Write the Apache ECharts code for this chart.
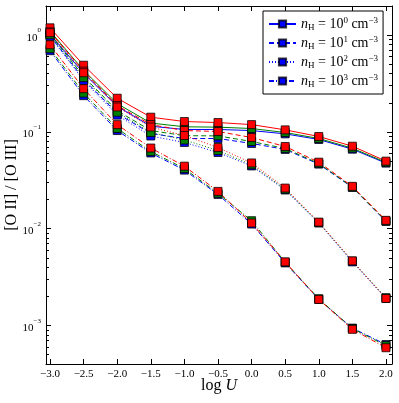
<!DOCTYPE html>
<html>
<head>
<meta charset="utf-8">
<script src="https://cdn.jsdelivr.net/npm/echarts@6/dist/echarts.min.js"></script>
<style>
html, body { margin: 0; padding: 0; background: #fff; }
#chart { width: 399px; height: 403px; }
</style>
</head>
<body>
<div id="chart"></div>
<script>
// log U grid
const logU = [-3.0, -2.5, -2.0, -1.5, -1.0, -0.5, 0.0, 0.5, 1.0, 1.5, 2.0];

// n_H = 10^0 (solid)
const n0Blue = [1.02, 0.405, 0.184, 0.1145, 0.106, 0.106, 0.1033, 0.0955, 0.0835, 0.0663, 0.0476];
const n0Green = [1.10, 0.433, 0.196, 0.1235, 0.113, 0.112, 0.1084, 0.0986, 0.0855, 0.0679, 0.0484];
const n0Red = [1.19, 0.489, 0.223, 0.142, 0.128, 0.125, 0.119, 0.105, 0.0897, 0.0712, 0.0499];

// n_H = 10^1 (dashed)
const n1Blue = [0.99, 0.351, 0.155, 0.0963, 0.0855, 0.0855, 0.076, 0.0659, 0.0465, 0.0267, 0.0119];
const n1Green = [1.03, 0.375, 0.1655, 0.1033, 0.0914, 0.091, 0.0796, 0.0675, 0.0472, 0.0269, 0.0120];
const n1Red = [1.08, 0.425, 0.187, 0.119, 0.1033, 0.101, 0.0875, 0.0707, 0.0487, 0.0274, 0.0122];

// n_H = 10^2 (dotted)
const n2Blue = [0.97, 0.339, 0.149, 0.0907, 0.0778, 0.0613, 0.0445, 0.0251, 0.01145, 0.00454, 0.0019];
const n2Green = [1.01, 0.364, 0.160, 0.0986, 0.0825, 0.0643, 0.0458, 0.0255, 0.01156, 0.00463, 0.00194];
const n2Red = [1.06, 0.409, 0.181, 0.1124, 0.0918, 0.069, 0.0478, 0.0263, 0.0117, 0.00465, 0.0019];

// n_H = 10^3 (dash-dot)
const n3Blue = [0.690, 0.237, 0.1033, 0.0606, 0.0403, 0.0226, 0.01117, 0.00443, 0.00186, 0.00094, 0.000635];
const n3Green = [0.724, 0.252, 0.1084, 0.0628, 0.0418, 0.0232, 0.0121, 0.00451, 0.00189, 0.00093, 0.00062];
const n3Red = [0.796, 0.280, 0.119, 0.0682, 0.0443, 0.0243, 0.01145, 0.00454, 0.00186, 0.000912, 0.000589];

const xTicks = [-3.0, -2.5, -2.0, -1.5, -1.0, -0.5, 0.0, 0.5, 1.0, 1.5, 2.0];
const yMajor = [0.001, 0.01, 0.1, 1];
const yMinor = [];
for (let e = -4; e <= 0; e++) {
  for (let m = 2; m <= 9; m++) {
    const v = m * Math.pow(10, e);
    if (v >= 0.0004 && v <= 2) yMinor.push(+v.toPrecision(3));
  }
}

const serif = 'Liberation Serif';
const groups = [
  { key: 'n0', exp: '0', dash: 'solid', blue: n0Blue, green: n0Green, red: n0Red },
  { key: 'n1', exp: '1', dash: [5, 3], blue: n1Blue, green: n1Green, red: n1Red },
  { key: 'n2', exp: '2', dash: [1, 2], blue: n2Blue, green: n2Green, red: n2Red },
  { key: 'n3', exp: '3', dash: [5, 2, 1, 2], blue: n3Blue, green: n3Green, red: n3Red }
];
const colours = [['blue', '#0000ff'], ['green', '#008000'], ['red', '#ff0000']];

const series = [];
colours.forEach(function (c) {
  groups.forEach(function (g) {
    series.push({
      name: c[0] === 'blue' ? g.key : g.key + c[0],
      type: 'line',
      data: logU.map(function (x, i) { return [x, g[c[0]][i]] }),
      symbol: 'rect',
      symbolSize: 8,
      lineStyle: { color: c[1], width: 1, type: g.dash },
      itemStyle: { color: c[1], borderColor: 'rgba(0,0,0,0.75)', borderWidth: 1 },
      emphasis: { disabled: true }
    })
  })
})

function fmtX(v) {
  return v.toFixed(1).replace('-', '\u2212')
}
function fmtY(v) {
  const e = Math.round(Math.log10(v))
  return '{b|10}{s|' + String(e).replace('-', '\u2212') + '}'
}

const frameLine = { show: true, onZero: false, lineStyle: { color: '#000', width: 1 } }
const noLine = { show: false, onZero: false }
const chart = echarts.init(document.getElementById('chart'))
chart.setOption({
  animation: false,
  backgroundColor: '#fff',
  grid: { left: 46, top: 6, right: 7, bottom: 39, outerBoundsMode: 'none', containLabel: false },
  legend: {
    data: ['n0', 'n1', 'n2', 'n3'],
    orient: 'vertical',
    left: 263,
    top: 11,
    padding: [5, 5, 5, 5],
    itemGap: 3,
    itemWidth: 27,
    itemHeight: 9,
    backgroundColor: '#fff',
    borderColor: '#000',
    borderWidth: 1,
    selectedMode: false,
    formatter: function (name) {
      const g = groups.find(function (d) { return d.key === name })
      return '{i|n}{sub|H}{t| = 10}{sup|' + g.exp + '}{t| cm}{sup|\u22123}'
    },
    textStyle: {
      rich: {
        i: { fontFamily: serif, fontStyle: 'italic', fontSize: 14, color: '#000', lineHeight: 16, verticalAlign: 'middle' },
        t: { fontFamily: serif, fontSize: 14, color: '#000', lineHeight: 16, verticalAlign: 'middle' },
        sub: { fontFamily: serif, fontSize: 9, color: '#000', verticalAlign: 'bottom' },
        sup: { fontFamily: serif, fontSize: 9, color: '#000', verticalAlign: 'top' }
      }
    }
  },
  xAxis: [
    {
      type: 'value', position: 'bottom', min: -3.06, max: 2.09,
      axisLine: frameLine,
      axisTick: { inside: true, length: 5, customValues: xTicks, lineStyle: { color: '#000' } },
      axisLabel: { customValues: xTicks, formatter: fmtX, fontFamily: serif, fontSize: 11, color: '#000', margin: 5 },
      splitLine: { show: false },
      name: '{r|log }{i|U}',
      nameLocation: 'middle',
      nameGap: 14,
      nameMoveOverlap: false,
      nameTextStyle: {
        rich: {
          r: { fontFamily: serif, fontSize: 16, color: '#000' },
          i: { fontFamily: serif, fontSize: 16, fontStyle: 'italic', color: '#000' }
        }
      }
    },
    {
      type: 'value', position: 'top', min: -3.06, max: 2.09,
      axisLine: frameLine,
      axisTick: { inside: true, length: 5, customValues: xTicks, lineStyle: { color: '#000' } },
      axisLabel: { show: false },
      splitLine: { show: false }
    }
  ],
  yAxis: [
    {
      type: 'log', logBase: 10, min: 0.0004, max: 2, position: 'left',
      axisLine: frameLine,
      axisTick: { inside: true, length: 5, customValues: yMajor, lineStyle: { color: '#000' } },
      axisLabel: {
        customValues: yMajor, formatter: fmtY, margin: 5,
        rich: {
          b: { fontFamily: serif, fontSize: 11, color: '#000', lineHeight: 16, verticalAlign: 'bottom' },
          s: { fontFamily: serif, fontSize: 7, color: '#000', verticalAlign: 'top' }
        }
      },
      splitLine: { show: false },
      name: '[O II] / [O III]',
      nameLocation: 'middle',
      nameGap: 26,
      nameMoveOverlap: false,
      nameTextStyle: { fontFamily: serif, fontSize: 16, color: '#000' }
    },
    {
      type: 'log', logBase: 10, min: 0.0004, max: 2, position: 'left',
      axisLine: noLine,
      axisTick: { inside: true, length: 3, customValues: yMinor, lineStyle: { color: '#000' } },
      axisLabel: { show: false },
      splitLine: { show: false }
    },
    {
      type: 'log', logBase: 10, min: 0.0004, max: 2, position: 'right',
      axisLine: frameLine,
      axisTick: { inside: true, length: 5, customValues: yMajor, lineStyle: { color: '#000' } },
      axisLabel: { show: false },
      splitLine: { show: false }
    },
    {
      type: 'log', logBase: 10, min: 0.0004, max: 2, position: 'right',
      axisLine: noLine,
      axisTick: { inside: true, length: 3, customValues: yMinor, lineStyle: { color: '#000' } },
      axisLabel: { show: false },
      splitLine: { show: false }
    }
  ],
  series: series
})
</script>
</body>
</html>
